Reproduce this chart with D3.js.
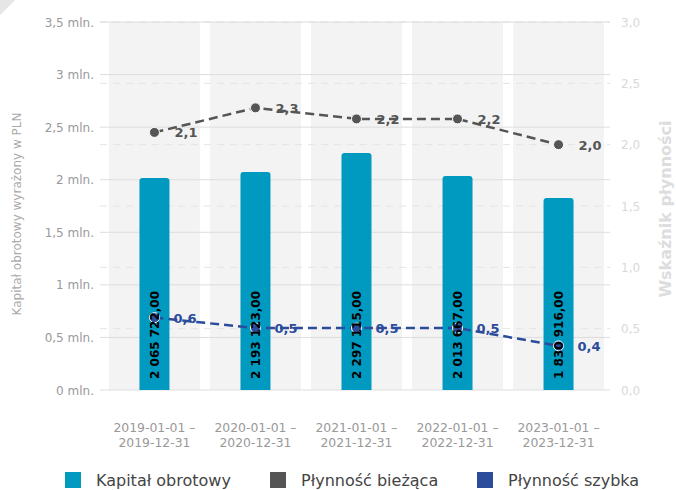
<!DOCTYPE html>
<html>
<head>
<meta charset="utf-8">
<script src="https://cdn.jsdelivr.net/npm/d3@7"></script>
<style>
body { margin: 0; background: #fff; }
svg { font-family: "DejaVu Sans", sans-serif; }
</style>
</head>
<body>
<script>
const periods = [
    ["2019-01-01 –", "2019-12-31"],
    ["2020-01-01 –", "2020-12-31"],
    ["2021-01-01 –", "2021-12-31"],
    ["2022-01-01 –", "2022-12-31"],
    ["2023-01-01 –", "2023-12-31"]
];
const kapitalLabels = [2065722, 2193123, 2297115, 2013667, 1830916];
const kapitalBars = [2017000, 2074000, 2255000, 2036000, 1827000];
const biezaca = [2.1, 2.3, 2.21, 2.21, 2.0];
const szybka = [0.59, 0.505, 0.505, 0.505, 0.36];
const leftTicks = [0, 500000, 1000000, 1500000, 2000000, 2500000, 3000000, 3500000];
const rightTicks = [0, 0.5, 1, 1.5, 2, 2.5, 3];
const legendNames = ["Kapitał obrotowy", "Płynność bieżąca", "Płynność szybka"];
const colors = ["#0099bf", "#555555", "#2b4c9b"];

const width = 676, height = 490;
const plotTop = 22, plotBottom = 390, plotLeft = 100, plotRight = 610;

const svg = d3.select('body').append('svg')
    .attr('width', width)
    .attr('height', height);

svg.append('path')
    .attr('d', 'M0,0 L15,0 L0,15 Z')
    .attr('fill', '#e6e6e6');

const x = d3.scaleBand()
    .domain(d3.range(periods.length))
    .range([109, 604])
    .paddingInner(0.1);

const yL = d3.scaleLinear().domain([0, 3500000]).range([plotBottom, plotTop]);
const yR = d3.scaleLinear().domain([0, 3]).range([plotBottom, plotTop]);

// column backgrounds
svg.selectAll('rect.band')
    .data(periods)
    .enter()
    .append('rect')
    .attr('class', 'band')
    .attr('x', (d, i) => x(i))
    .attr('y', plotTop)
    .attr('width', x.bandwidth())
    .attr('height', plotBottom - plotTop)
    .attr('fill', '#f3f3f3');

// right axis dashed grid
svg.selectAll('line.gr')
    .data(rightTicks.slice(1))
    .enter()
    .append('line')
    .attr('x1', plotLeft).attr('x2', plotRight)
    .attr('y1', d => yR(d)).attr('y2', d => yR(d))
    .attr('stroke', '#e4e4e4')
    .attr('stroke-dasharray', '7,6');

// left axis solid grid
svg.selectAll('line.gl')
    .data(leftTicks)
    .enter()
    .append('line')
    .attr('x1', plotLeft).attr('x2', plotRight)
    .attr('y1', d => yL(d)).attr('y2', d => yL(d))
    .attr('stroke', '#dddddd');

svg.selectAll('text.tl')
    .data(leftTicks)
    .enter()
    .append('text')
    .attr('x', 94)
    .attr('y', d => yL(d) + 4.5)
    .attr('text-anchor', 'end')
    .attr('font-size', 12)
    .attr('fill', '#999')
    .text(d => (d / 1000000).toString().replace('.', ',') + ' mln.');

svg.selectAll('text.tr')
    .data(rightTicks)
    .enter()
    .append('text')
    .attr('x', 621)
    .attr('y', d => yR(d) + 4.5)
    .attr('font-size', 12)
    .attr('fill', '#d9d9d9')
    .text(d => d.toFixed(1).replace('.', ','));

svg.append('text')
    .attr('transform', 'translate(21,' + ((plotTop + plotBottom) / 2 + 8) + ') rotate(-90)')
    .attr('text-anchor', 'middle')
    .attr('font-size', 12)
    .attr('fill', '#aaa')
    .text('Kapitał obrotowy wyrażony w PLN');

svg.append('text')
    .attr('transform', 'translate(671,209) rotate(-90)')
    .attr('text-anchor', 'middle')
    .attr('font-size', 16)
    .attr('font-weight', 'bold')
    .attr('fill', '#dddddd')
    .text('Wskaźnik płynności');

// x labels
const xl = svg.selectAll('text.xl')
    .data(periods)
    .enter()
    .append('text')
    .attr('text-anchor', 'middle')
    .attr('font-size', 12.4)
    .attr('fill', '#999');
xl.append('tspan')
    .attr('x', (d, i) => x(i) + x.bandwidth() / 2)
    .attr('y', 432)
    .text(d => d[0]);
xl.append('tspan')
    .attr('x', (d, i) => x(i) + x.bandwidth() / 2)
    .attr('y', 447)
    .text(d => d[1]);

// bars
const barW = 30;
svg.selectAll('path.bar')
    .data(kapitalBars)
    .enter()
    .append('path')
    .attr('fill', colors[0])
    .attr('d', (d, i) => {
        const cx = x(i) + x.bandwidth() / 2, x0 = cx - barW / 2, x1 = cx + barW / 2;
        const y0 = yL(d), r = 3;
        return 'M' + x0 + ',' + plotBottom + 'L' + x0 + ',' + (y0 + r) +
            'Q' + x0 + ',' + y0 + ' ' + (x0 + r) + ',' + y0 +
            'L' + (x1 - r) + ',' + y0 + 'Q' + x1 + ',' + y0 + ' ' + x1 + ',' + (y0 + r) +
            'L' + x1 + ',' + plotBottom + 'Z';
    });

const fmt = v => d3.format(',.2f')(v).replace(/,/g, ' ').replace('.', ',');

// line series
function series(values, color, labelDx, labelDy) {
    const line = d3.line()
        .x((d, i) => x(i) + x.bandwidth() / 2)
        .y(d => yR(d));
    svg.append('path')
        .datum(values)
        .attr('d', line)
        .attr('fill', 'none')
        .attr('stroke', color)
        .attr('stroke-width', 2.5)
        .attr('stroke-dasharray', '9,5');
    svg.selectAll(null)
        .data(values)
        .enter()
        .append('circle')
        .attr('cx', (d, i) => x(i) + x.bandwidth() / 2)
        .attr('cy', d => yR(d))
        .attr('r', 5)
        .attr('fill', color)
        .attr('stroke', '#fff')
        .attr('stroke-width', 1);
    return () => svg.selectAll(null)
        .data(values)
        .enter()
        .append('text')
        .attr('x', (d, i) => x(i) + x.bandwidth() / 2 + labelDx)
        .attr('y', d => yR(d) + labelDy)
        .attr('font-size', 13)
        .attr('font-weight', 'bold')
        .attr('fill', color)
        .text(d => d.toFixed(1).replace('.', ','));
}

const lab1 = series(biezaca, colors[1], 20, 5);
const lab2 = series(szybka, colors[2], 19, 5);

// bar value labels
svg.selectAll('text.bv')
    .data(kapitalLabels)
    .enter()
    .append('text')
    .attr('transform', (d, i) => 'translate(' + (x(i) + x.bandwidth() / 2 + 4.5) + ',' + (plotBottom - 11) + ') rotate(-90)')
    .attr('font-size', 12)
    .attr('font-weight', 'bold')
    .attr('fill', '#000')
    .text(d => fmt(d));

lab1();
lab2();

// legend
const lx = [65, 270, 477];
legendNames.forEach((name, i) => {
    svg.append('rect')
        .attr('x', lx[i]).attr('y', 472)
        .attr('width', 16).attr('height', 16)
        .attr('fill', colors[i]);
    svg.append('text')
        .attr('x', lx[i] + 31).attr('y', 486)
        .attr('font-size', 16)
        .attr('fill', '#444')
        .text(name);
});
</script>
</body>
</html>
